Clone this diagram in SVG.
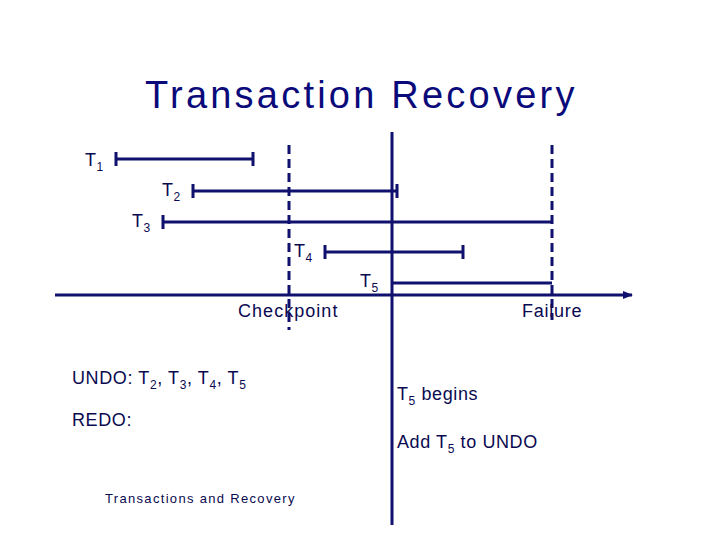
<svg xmlns="http://www.w3.org/2000/svg" width="720" height="540" viewBox="0 0 720 540">
<style>
text{font-family:"Liberation Sans",Arial,sans-serif;fill:#0a0a50;letter-spacing:0.6px}
.b{stroke:#10106e;stroke-width:3;fill:none}
.d{stroke:#10106e;stroke-width:3;stroke-dasharray:9,5;fill:none}
.l{font-size:18px}
</style>
<defs><marker id="a" markerWidth="10" markerHeight="8" refX="9" refY="4" orient="auto" markerUnits="userSpaceOnUse"><path d="M0,0L10,4L0,8z" fill="#10106e"/></marker></defs>
<rect width="720" height="540" fill="#fff"/>
<text x="145" y="108" font-size="38" textLength="430" style="fill:#0a0a7a">Transaction Recovery</text>
<g id="connectors">
<line class="b" x1="55" y1="295" x2="632" y2="295" stroke-width="2" marker-end="url(#a)"/>
<line class="d" x1="289" y1="145" x2="289" y2="330"/>
<line class="d" x1="552" y1="145" x2="552" y2="320"/>
<line class="b" x1="392" y1="132" x2="392" y2="525"/>
</g>
<g id="T1"><path class="b" d="M116,159H253M116,152V166M253,152V166"/><text class="l" x="85" y="166">T<tspan font-size="12" dy="5">1</tspan></text></g>
<g id="T2"><path class="b" d="M193,191H397M193,184V198M397,184V198"/><text class="l" x="162" y="196">T<tspan font-size="12" dy="5">2</tspan></text></g>
<g id="T3"><path class="b" d="M163,222H552M163,215V229"/><text class="l" x="132" y="227">T<tspan font-size="12" dy="5">3</tspan></text></g>
<g id="T4"><path class="b" d="M325,252H463M325,245V259M463,245V259"/><text class="l" x="294" y="257">T<tspan font-size="12" dy="5">4</tspan></text></g>
<g id="T5"><path class="b" d="M392,283H552"/><text class="l" x="360" y="287">T<tspan font-size="12" dy="5">5</tspan></text></g>
<text class="l" x="238" y="317" textLength="100">Checkpoint</text>
<text class="l" x="522" y="317" textLength="60">Failure</text>
<text class="l" x="72" y="384">UNDO: T<tspan font-size="12" dy="5">2</tspan><tspan dy="-5">, T</tspan><tspan font-size="12" dy="5">3</tspan><tspan dy="-5">, T</tspan><tspan font-size="12" dy="5">4</tspan><tspan dy="-5">, T</tspan><tspan font-size="12" dy="5">5</tspan></text>
<text class="l" x="72" y="426">REDO:</text>
<text class="l" x="397" y="400">T<tspan font-size="12" dy="5">5</tspan><tspan dy="-5"> begins</tspan></text>
<text class="l" x="397" y="448">Add T<tspan font-size="12" dy="5">5</tspan><tspan dy="-5"> to UNDO</tspan></text>
<text x="105" y="503" font-size="13" textLength="190">Transactions and Recovery</text>
</svg>
